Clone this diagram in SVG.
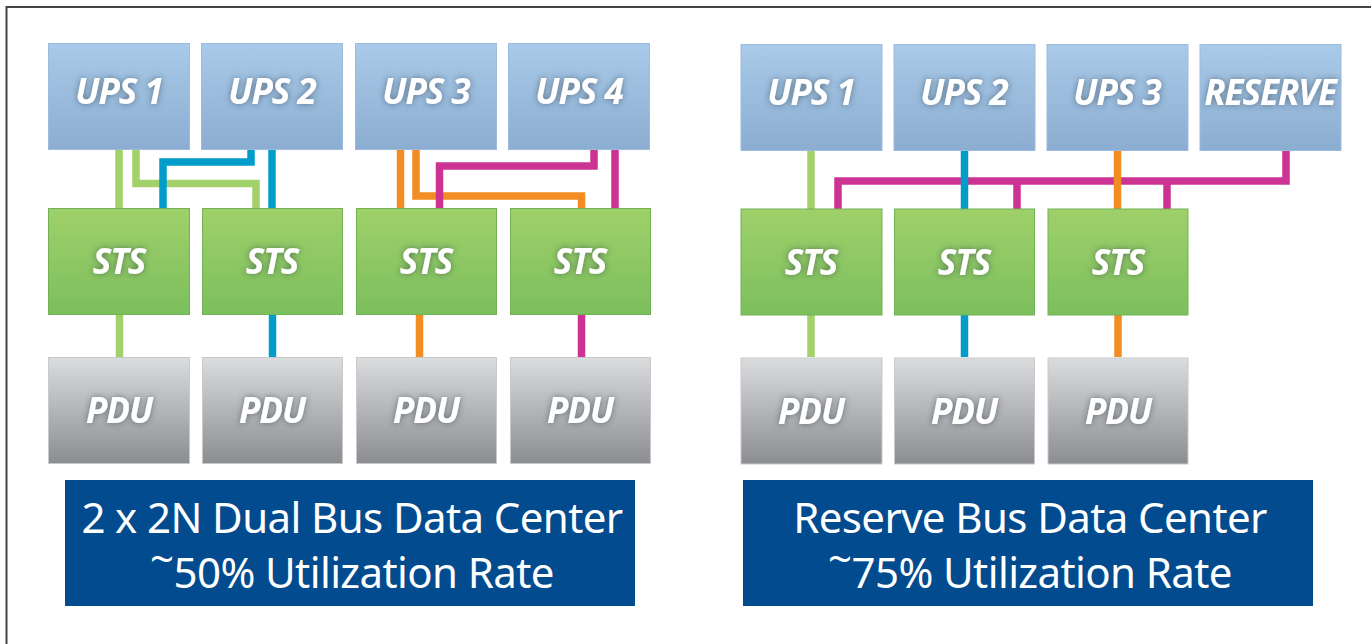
<svg xmlns="http://www.w3.org/2000/svg" width="1371" height="644" viewBox="0 0 1371 644">
  <defs>
    <linearGradient id="gUps" x1="0" y1="0" x2="0" y2="1">
      <stop offset="0" stop-color="#a9cae8"/>
      <stop offset="1" stop-color="#8badd1"/>
    </linearGradient>
    <linearGradient id="gSts" x1="0" y1="0" x2="0" y2="1">
      <stop offset="0" stop-color="#9fd06a"/>
      <stop offset="1" stop-color="#7cbf5d"/>
    </linearGradient>
    <linearGradient id="gPdu" x1="0" y1="0" x2="0" y2="1">
      <stop offset="0" stop-color="#dbdcde"/>
      <stop offset="1" stop-color="#8c8d91"/>
    </linearGradient>
    <filter id="glow" x="-20%" y="-40%" width="140%" height="180%">
      <feDropShadow dx="0" dy="0" stdDeviation="3" flood-color="#2a3a4a" flood-opacity="0.6"/>
    </filter>
  </defs>
  <style>
    .ups { fill: url(#gUps); stroke: #9dbcdc; stroke-width: 1; }
    .sts { fill: url(#gSts); stroke: #72b155; stroke-width: 1; }
    .pdu { fill: url(#gPdu); stroke: #c8c9cb; stroke-width: 1; }
    .lbl { font-family: "Open Sans", "Noto Sans", sans-serif; font-weight: 700; font-style: italic; font-size: 35px; fill: #ffffff; text-anchor: middle; letter-spacing: -1px; filter: url(#glow); }
    .cap { fill: #014b8e; }
    .capt { font-family: "Noto Sans", "Open Sans", sans-serif; font-size: 42px; fill: #ffffff; text-anchor: middle; letter-spacing: -0.6px; }
    .w { fill: none; stroke-width: 7.5; stroke-linejoin: miter; }
    .g { stroke: #a2d06a; }
    .b { stroke: #009dcb; }
    .o { stroke: #f18d22; }
    .m { stroke: #cc3393; }
  </style>

  <!-- frame -->
  <path d="M6.5,644 V7 H1371" fill="none" stroke="#444444" stroke-width="2"/>

  <!-- connectors -->
  <g id="connectors">
    <!-- left block: UPS to STS -->
    <path class="w g" d="M119,150 V209"/>
    <path class="w g" d="M136,150 V183.5 H256 V209"/>
    <path class="w b" d="M251,149 V162 H163 V209"/>
    <path class="w b" d="M272,150 V209"/>
    <path class="w o" d="M400.5,150 V209"/>
    <path class="w o" d="M416,150 V196 H581.5 V209"/>
    <path class="w m" d="M594,150 V166 H439.5 V209"/>
    <path class="w m" d="M615,150 V209"/>
    <!-- left block: STS to PDU -->
    <path class="w g" d="M119.5,315 V357"/>
    <path class="w b" d="M272.5,315 V357"/>
    <path class="w o" d="M419.5,315 V357"/>
    <path class="w m" d="M581.5,315 V357"/>
    <!-- right block: reserve bus -->
    <path class="w m" d="M1286,150 V181 H838 V209"/>
    <path class="w m" d="M1017,181 V209"/>
    <path class="w m" d="M1167,181 V209"/>
    <path class="w g" d="M811,150 V209"/>
    <path class="w b" d="M964.5,150 V209"/>
    <path class="w o" d="M1117.5,150 V209"/>
    <!-- right block: STS to PDU -->
    <path class="w g" d="M811,315 V357"/>
    <path class="w b" d="M964.5,315 V357"/>
    <path class="w o" d="M1118,315 V357"/>
  </g>

  <!-- left block: 2 x 2N dual bus -->
  <g id="l-ups1"><rect class="ups" x="48.5" y="43.5" width="141" height="106"/><text class="lbl" x="119" y="104">UPS 1</text></g>
  <g id="l-ups2"><rect class="ups" x="201.5" y="43.5" width="141" height="106"/><text class="lbl" x="272" y="104">UPS 2</text></g>
  <g id="l-ups3"><rect class="ups" x="355.5" y="43.5" width="141" height="106"/><text class="lbl" x="426" y="104">UPS 3</text></g>
  <g id="l-ups4"><rect class="ups" x="508.5" y="43.5" width="141" height="106"/><text class="lbl" x="579" y="104">UPS 4</text></g>

  <g id="l-sts1"><rect class="sts" x="48.5" y="208.5" width="141" height="106"/><text class="lbl" x="119" y="274">STS</text></g>
  <g id="l-sts2"><rect class="sts" x="202.5" y="208.5" width="140" height="106"/><text class="lbl" x="272" y="274">STS</text></g>
  <g id="l-sts3"><rect class="sts" x="356.5" y="208.5" width="140" height="106"/><text class="lbl" x="426" y="274">STS</text></g>
  <g id="l-sts4"><rect class="sts" x="510.5" y="208.5" width="140" height="106"/><text class="lbl" x="580" y="274">STS</text></g>

  <g id="l-pdu1"><rect class="pdu" x="48.5" y="357.5" width="141" height="106"/><text class="lbl" x="119" y="423">PDU</text></g>
  <g id="l-pdu2"><rect class="pdu" x="202.5" y="357.5" width="140" height="106"/><text class="lbl" x="272" y="423">PDU</text></g>
  <g id="l-pdu3"><rect class="pdu" x="356.5" y="357.5" width="140" height="106"/><text class="lbl" x="426" y="423">PDU</text></g>
  <g id="l-pdu4"><rect class="pdu" x="510.5" y="357.5" width="140" height="106"/><text class="lbl" x="580" y="423">PDU</text></g>

  <g id="l-caption">
    <rect class="cap" x="65" y="480" width="570" height="126"/>
    <text class="capt" x="352" y="533">2 x 2N Dual Bus Data Center</text>
    <text class="capt" x="352" y="588"><tspan dy="-14">~</tspan><tspan dy="14">50% Utilization Rate</tspan></text>
  </g>

  <!-- right block: reserve bus -->
  <g id="r-ups1"><rect class="ups" x="741" y="44.5" width="141" height="106"/><text class="lbl" x="811" y="105">UPS 1</text></g>
  <g id="r-ups2"><rect class="ups" x="894" y="44.5" width="141" height="106"/><text class="lbl" x="964" y="105">UPS 2</text></g>
  <g id="r-ups3"><rect class="ups" x="1047" y="44.5" width="141" height="106"/><text class="lbl" x="1117" y="105">UPS 3</text></g>
  <g id="r-reserve"><rect class="ups" x="1200" y="44.5" width="141" height="106"/><text class="lbl" x="1270" y="105">RESERVE</text></g>

  <g id="r-sts1"><rect class="sts" x="741" y="209" width="141" height="106"/><text class="lbl" x="811" y="275">STS</text></g>
  <g id="r-sts2"><rect class="sts" x="894.5" y="209" width="140" height="106"/><text class="lbl" x="964" y="275">STS</text></g>
  <g id="r-sts3"><rect class="sts" x="1048" y="209" width="140" height="106"/><text class="lbl" x="1118" y="275">STS</text></g>

  <g id="r-pdu1"><rect class="pdu" x="741" y="358" width="141" height="106"/><text class="lbl" x="811" y="424">PDU</text></g>
  <g id="r-pdu2"><rect class="pdu" x="894.5" y="358" width="140" height="106"/><text class="lbl" x="964" y="424">PDU</text></g>
  <g id="r-pdu3"><rect class="pdu" x="1048" y="358" width="140" height="106"/><text class="lbl" x="1118" y="424">PDU</text></g>

  <g id="r-caption">
    <rect class="cap" x="743" y="480" width="570" height="126"/>
    <text class="capt" x="1030" y="533">Reserve Bus Data Center</text>
    <text class="capt" x="1030" y="588"><tspan dy="-14">~</tspan><tspan dy="14">75% Utilization Rate</tspan></text>
  </g>
</svg>
